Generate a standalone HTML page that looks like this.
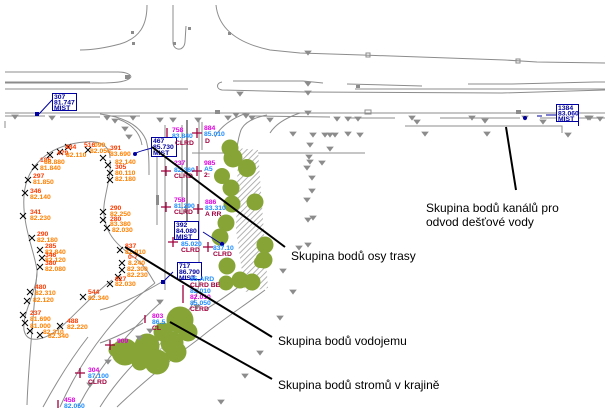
<!DOCTYPE html>
<html><head><meta charset="utf-8">
<style>
html,body{margin:0;padding:0;background:#fff;}
svg{display:block;}
.g{fill:none;stroke:#8c8c8c;stroke-width:1;}
.g2{fill:none;stroke:#8c8c8c;stroke-width:2;}
.o,.r,.m,.b,.d,.k{font-family:"Liberation Sans",sans-serif;font-size:6.8px;font-weight:bold;}
.o{fill:#ff8000;}
.r{fill:#ff3c00;}
.m{fill:#e000e0;}
.b{fill:#1e8cff;}
.d{fill:#a0003c;}
.k{fill:#0000a0;}
.lab{font-family:"Liberation Sans",sans-serif;font-size:12px;fill:#000;}
</style></head>
<body>
<svg width="610" height="410" viewBox="0 0 610 410" xmlns="http://www.w3.org/2000/svg">
<defs>
<g id="t"><path d="M-3,-2 L3,-2 L0,2 Z" fill="#8c8c8c" stroke="#8c8c8c" stroke-width="0.8"/></g>
<g id="x"><path d="M-3,-3 L3,3 M-3,3 L3,-3" stroke="#000" stroke-width="1"/></g>
<g id="p"><path d="M-5,0 L5,0 M0,-5 L0,5" stroke="#a0003c" stroke-width="1.3"/></g>
<pattern id="h" width="4" height="4" patternUnits="userSpaceOnUse" patternTransform="rotate(45)">
<rect width="4" height="4" fill="#fff"/><line x1="0" y1="0" x2="0" y2="4" stroke="#a0a0a0" stroke-width="1.6"/>
</pattern>
</defs>
<rect width="610" height="410" fill="#fff"/>

<!-- top intersection -->
<path class="g" d="M147,5 C147,25 140,38 120,44 C105,48 92,50 80,50"/>
<path class="g" d="M173,5 L173,42 C173,51 184,52 185,42 L186,26"/>
<path class="g" d="M216,5 C218,25 232,42 270,50 L300,53 L362,55 L505,60 L537,62 L605,63"/>
<rect x="131" y="31" width="3" height="3" fill="#8c8c8c"/>
<rect x="188" y="27" width="3" height="3" fill="#8c8c8c"/>
<rect x="173" y="42" width="3" height="3" fill="#8c8c8c"/>
<rect x="228" y="32" width="3" height="3" fill="#8c8c8c"/>
<rect x="132" y="42" width="3" height="3" fill="#8c8c8c"/>
<rect x="366" y="53" width="4" height="4" fill="none" stroke="#8c8c8c"/>
<rect x="516" y="59" width="4" height="4" fill="none" stroke="#8c8c8c"/>

<!-- left island -->
<path class="g" d="M5,72 L118,72 C128,72 133,76 130,78 C127,81 120,83 100,83 L5,83"/>
<path class="g" d="M5,82 L90,82"/>
<path class="g" d="M5,89 L188,89"/>
<rect x="125" y="75" width="5" height="4" fill="#8c8c8c"/>
<!-- right island -->
<path class="g" d="M222,82 C216,83 216,89 222,90 L305,92 L502,93 L605,90"/>
<path class="g" d="M233,81 L303,81 L323,83 M347,84 L422,86 M468,84 L512,84 L595,82 L605,82"/>
<path class="g" d="M355,89 L605,89"/>
<rect x="356" y="85" width="4" height="3" fill="#8c8c8c"/>

<!-- main road lines -->
<path class="g" d="M5,113 L605,113"/>
<path class="g" d="M5,116 L45,116 M60,117 L100,117 M110,116 L140,116 M250,116 L330,117 M350,118 L395,118 M440,118 L520,118 M540,118 L605,118"/>
<path class="g" d="M405,126 L562,126 L562,133"/>
<path class="g" d="M5,121 L5,128"/>
<path class="g" d="M192,153 L365,153"/>
<rect x="516" y="110" width="5" height="4" fill="#8c8c8c"/>
<rect x="365" y="110" width="6" height="4" fill="none" stroke="#8c8c8c"/>
<rect x="215" y="110" width="5" height="4" fill="#8c8c8c"/>

<!-- intersection corner curves -->
<path class="g" d="M100,114 C125,117 140,126 146,140 C149,150 149,160 149,175"/>
<path class="g" d="M118,119 C132,124 140,133 142,145"/>
<path class="g" d="M247,113 C232,118 220,127 215,137"/>
<path class="g" d="M267,115 C252,118 242,124 240,133 C238,140 237,146 237,152"/>
<path class="g" d="M300,113 C285,118 275,125 270,133"/>
<path class="g" d="M165,125 L165,290"/>
<path class="g" d="M182,125 L182,215"/>
<path class="g2" d="M187,120 L187,230"/>
<path class="g" d="M199,120 L199,280 C199,300 185,318 170,330"/>
<path class="g" d="M202,122 L202,150"/>
<path class="g" d="M157,150 L157,225"/>
<rect x="156" y="195" width="3" height="10" fill="#8c8c8c"/>
<rect x="185" y="205" width="3" height="8" fill="#8c8c8c"/>

<!-- left loop -->
<path class="g" d="M110,158 C110,146 100,140 85,142 C70,143 55,148 45,156 C32,166 25,180 24,196 C22,225 34,250 37,270 C38,290 22,312 24,330 C27,345 45,340 60,328 C75,315 90,297 112,280"/>
<path class="g" d="M110,160 C112,178 102,200 104,215 C106,235 118,246 135,258 C148,268 152,280 155,283"/>
<path class="g" d="M37,272 C33,320 28,370 27,405"/>
<path class="g" d="M88,337 C70,360 55,385 43,407"/>
<path class="g" d="M155,283 C125,305 85,350 60,407"/>
<path class="g" d="M160,303 C130,330 100,365 78,407"/>
<path class="g" d="M185,320 C150,345 120,375 100,407"/>
<path class="g" d="M200,338 C170,360 140,385 117,407"/>
<path class="g" d="M265,290 C245,305 215,325 200,338"/>
<path class="g" d="M258,268 C245,285 220,300 205,310"/>
<path class="g" d="M100,310 C120,305 140,295 165,280"/>
<path class="g" d="M100,343 C115,338 130,330 143,323"/>

<!-- hatch area -->
<path d="M238,148 L258,150 L268,288 L245,292 L236,230 Z" fill="url(#h)"/>
<path d="M130,360 C150,350 170,335 180,318 L186,322 C178,340 160,358 135,368 Z" fill="url(#h)"/>

<!-- trees -->
<g fill="#86a536">
<circle cx="230" cy="148" r="8.5"/>
<circle cx="233" cy="158" r="9.5"/>
<circle cx="247" cy="168" r="9"/>
<circle cx="222" cy="176" r="8"/>
<circle cx="231" cy="188" r="8.5"/>
<circle cx="255" cy="202" r="8.5"/>
<circle cx="232" cy="204" r="8.5"/>
<circle cx="226" cy="223" r="8.5"/>
<circle cx="220" cy="237" r="8.5"/>
<circle cx="265" cy="245" r="8.5"/>
<circle cx="264" cy="260" r="8.5"/>
<circle cx="227" cy="266" r="8.5"/>
<circle cx="240" cy="280" r="8.5"/>
<circle cx="226" cy="283" r="7.5"/>
<circle cx="252" cy="282" r="8.5"/>
<circle cx="260" cy="262" r="6"/>
<!-- bottom cluster -->
<circle cx="180" cy="320" r="13.5"/>
<circle cx="188" cy="332" r="9.5"/>
<circle cx="172" cy="343" r="11.5"/>
<circle cx="125" cy="352" r="13.5"/>
<circle cx="147" cy="346" r="12.5"/>
<circle cx="157" cy="362" r="12.5"/>
<circle cx="176" cy="352" r="10.5"/>
<circle cx="140" cy="362" r="8.5"/>
<circle cx="163" cy="332" r="9.5"/>
<circle cx="115" cy="350" r="6.5"/>
</g>

<!-- triangles -->
<g>
<use href="#t" x="15" y="117"/><use href="#t" x="52" y="118"/><use href="#t" x="107" y="118"/><use href="#t" x="115" y="121"/>
<use href="#t" x="133" y="118"/><use href="#t" x="160" y="120"/><use href="#t" x="173" y="120"/><use href="#t" x="198" y="120"/>
<use href="#t" x="228" y="118"/><use href="#t" x="252" y="118"/><use href="#t" x="270" y="120"/>
<use href="#t" x="337" y="119"/><use href="#t" x="348" y="119"/><use href="#t" x="358" y="119"/><use href="#t" x="412" y="118"/>
<use href="#t" x="417" y="122"/><use href="#t" x="472" y="118"/><use href="#t" x="485" y="121"/><use href="#t" x="525" y="118"/>
<use href="#t" x="543" y="122"/><use href="#t" x="588" y="118"/><use href="#t" x="600" y="119"/>
<use href="#t" x="313" y="135"/><use href="#t" x="325" y="135"/><use href="#t" x="330" y="135"/><use href="#t" x="335" y="135"/>
<use href="#t" x="348" y="134"/><use href="#t" x="360" y="135"/><use href="#t" x="425" y="134"/><use href="#t" x="487" y="134"/><use href="#t" x="568" y="135"/>
<use href="#t" x="293" y="134"/><use href="#t" x="310" y="145"/><use href="#t" x="330" y="149"/><use href="#t" x="309" y="157"/>
<use href="#t" x="310" y="162"/><use href="#t" x="322" y="163"/><use href="#t" x="307" y="168"/><use href="#t" x="312" y="178"/>
<use href="#t" x="312" y="191"/><use href="#t" x="307" y="200"/><use href="#t" x="308" y="220"/><use href="#t" x="313" y="218"/>
<use href="#t" x="299" y="248"/><use href="#t" x="308" y="245"/><use href="#t" x="283" y="271"/><use href="#t" x="293" y="292"/>
<use href="#t" x="280" y="318"/><use href="#t" x="260" y="353"/><use href="#t" x="245" y="376"/><use href="#t" x="221" y="402"/>
<use href="#t" x="197" y="307"/><use href="#t" x="160" y="302"/><use href="#t" x="150" y="331"/><use href="#t" x="139" y="338"/>
<use href="#t" x="108" y="362"/><use href="#t" x="90" y="385"/><use href="#t" x="240" y="94"/><use href="#t" x="308" y="53"/>
<use href="#t" x="308" y="84"/><use href="#t" x="308" y="93"/><use href="#t" x="308" y="113"/><use href="#t" x="590" y="118"/>
<use href="#t" x="125" y="129"/><use href="#t" x="129" y="137"/><use href="#t" x="236" y="115"/><use href="#t" x="246" y="116"/>
</g>

<!-- blue boxes -->
<rect x="52.5" y="93.5" width="24" height="17" fill="#fff" stroke="#0000a0"/>
<text class="k" x="54" y="99">307</text><text class="k" x="54" y="104.5">81.747</text><text class="k" x="54" y="110">MIST</text>
<path d="M52,100 L39,114" stroke="#0000a0" fill="none"/>
<rect x="35" y="112" width="4" height="4" fill="#0000a0"/>

<rect x="556.5" y="104.5" width="22" height="17" fill="#fff" stroke="#0000a0"/>
<path d="M578.5,121 L578.5,126" stroke="#0000a0"/>
<text class="k" x="558" y="110">1384</text><text class="k" x="558" y="115.5">83.060</text><text class="k" x="558" y="121">MIST</text>
<path d="M537,116 L542,116 M546,115 L556,115" stroke="#0000a0"/>
<circle cx="525" cy="118" r="2" fill="#0000a0"/>

<rect x="151.5" y="137.5" width="25" height="19" fill="#fff" stroke="#0000a0"/>
<text class="k" x="153" y="143">467</text><text class="k" x="153" y="149">85.730</text><text class="k" x="153" y="155">MIST</text>
<path d="M152,148 C145,150 140,151 136,153" stroke="#0000a0" fill="none"/>
<circle cx="135" cy="154" r="2" fill="#0000a0"/>

<rect x="174.5" y="221.5" width="24" height="18" fill="#fff" stroke="#0000a0"/>
<text class="k" x="176" y="227">392</text><text class="k" x="176" y="233">84.080</text><text class="k" x="176" y="239">MIST</text>
<path d="M203,232 L220,243" stroke="#0000a0" fill="none"/>
<circle cx="222" cy="244" r="2.2" fill="#0000a0"/>

<rect x="177.5" y="262.5" width="24" height="17" fill="#fff" stroke="#0000a0"/>
<text class="k" x="179" y="268">717</text><text class="k" x="179" y="274">86.790</text><text class="k" x="179" y="280">MIST</text>
<path d="M173,272 L164,281" stroke="#0000a0" fill="none"/>
<rect x="161" y="280" width="4" height="4" fill="#0000a0"/>

<!-- center labels -->
<text class="m" x="172" y="132">758</text><text class="b" x="172" y="138">83.840</text><text class="d" x="175" y="145">CLRD</text>
<text class="m" x="204" y="130">884</text><text class="b" x="204" y="136">85.010</text><text class="d" x="205" y="143">D</text>
<text class="m" x="174" y="165">237</text><text class="b" x="174" y="172">82.360</text><text class="d" x="174" y="178">CLRD</text>
<text class="m" x="204" y="165">985</text><text class="b" x="204" y="171">A5</text><text class="d" x="204" y="177">2:</text>
<text class="m" x="174" y="202">758</text><text class="b" x="174" y="208">81.290</text><text class="d" x="174" y="214">CLRD</text>
<text class="m" x="205" y="204">886</text><text class="b" x="205" y="210">83.310</text><text class="d" x="205" y="216">A RR</text>
<text class="b" x="181" y="246">85.020</text><text class="d" x="181" y="252">CLRD</text>
<text class="b" x="213" y="250">837.10</text><text class="d" x="213" y="256">CLRD</text>
<text class="b" x="190" y="281">85.ARD</text><text class="d" x="190" y="287">CLRD BE</text>
<text class="b" x="190" y="293">82.010</text><text class="m" x="190" y="299">82.010</text><text class="b" x="190" y="305">85.050</text><text class="d" x="190" y="311">CLRD</text>
<text class="m" x="152" y="318">803</text><text class="b" x="152" y="324">86.5</text><text class="d" x="152" y="330">CL</text>
<text class="m" x="117" y="343">909</text>
<text class="m" x="88" y="372">304</text><text class="b" x="88" y="378">87.100</text><text class="d" x="88" y="384">CLRD</text>
<text class="m" x="64" y="402">458</text><text class="b" x="64" y="408">82.050</text>

<use href="#p" x="197" y="133"/><use href="#p" x="166" y="171"/><use href="#p" x="197" y="171"/>
<use href="#p" x="166" y="207"/><use href="#p" x="198" y="209"/><use href="#p" x="173" y="242"/><use href="#p" x="208" y="247"/>
<use href="#p" x="110" y="345"/><use href="#p" x="80" y="373"/>
<path d="M167,128 L167,137 M183,285 L183,303 M145,315 L145,323 M58,400 L58,408" stroke="#a0003c" stroke-width="1.3"/>

<!-- survey crosses -->
<g>
<use href="#x" x="50" y="155"/><use href="#x" x="35" y="167"/><use href="#x" x="28" y="180"/><use href="#x" x="25" y="193"/>
<use href="#x" x="23" y="216"/><use href="#x" x="32" y="238"/><use href="#x" x="40" y="250"/><use href="#x" x="42" y="258"/>
<use href="#x" x="40" y="267"/><use href="#x" x="103" y="158"/><use href="#x" x="108" y="165"/><use href="#x" x="110" y="173"/>
<use href="#x" x="110" y="180"/><use href="#x" x="103" y="212"/><use href="#x" x="103" y="220"/><use href="#x" x="107" y="228"/>
<use href="#x" x="120" y="250"/><use href="#x" x="122" y="263"/><use href="#x" x="122" y="270"/><use href="#x" x="118" y="277"/>
<use href="#x" x="60" y="152"/><use href="#x" x="68" y="147"/><use href="#x" x="88" y="150"/>
<use href="#x" x="30" y="292"/><use href="#x" x="27" y="301"/><use href="#x" x="23" y="315"/><use href="#x" x="25" y="323"/>
<use href="#x" x="30" y="331"/><use href="#x" x="40" y="335"/><use href="#x" x="60" y="326"/><use href="#x" x="83" y="297"/>
<use href="#x" x="110" y="284"/>
</g>

<!-- orange labels -->
<text class="r" x="65" y="149">484</text><text class="r" x="84" y="147">516</text><text class="o" x="94" y="147">090</text>
<text class="r" x="57" y="155">479</text><text class="o" x="66" y="157">82.110</text><text class="o" x="90" y="153">82.050</text>
<text class="r" x="40" y="162">185</text><text class="o" x="44" y="164">88.880</text><text class="o" x="40" y="170">81.840</text>
<text class="r" x="33" y="178">297</text><text class="o" x="33" y="184">81.850</text>
<text class="r" x="30" y="193">346</text><text class="o" x="30" y="199">82.140</text>
<text class="r" x="30" y="214">341</text><text class="o" x="30" y="220">82.230</text>
<text class="r" x="37" y="236">290</text><text class="o" x="37" y="242">82.180</text>
<text class="r" x="45" y="248">285</text><text class="o" x="45" y="254">82.840</text>
<text class="r" x="45" y="257">346</text><text class="o" x="45" y="262">82.120</text>
<text class="r" x="45" y="265">380</text><text class="o" x="45" y="271">82.080</text>
<text class="r" x="110" y="150">391</text><text class="o" x="110" y="156">83.690</text>
<text class="o" x="115" y="164">82.140</text><text class="r" x="115" y="169">305</text>
<text class="o" x="115" y="175">80.110</text><text class="o" x="115" y="181">82.180</text>
<text class="r" x="110" y="210">290</text><text class="o" x="110" y="216">82.250</text>
<text class="r" x="110" y="221">280</text><text class="o" x="110" y="226">83.380</text><text class="o" x="112" y="232">82.030</text>
<text class="r" x="125" y="248">837</text><text class="o" x="125" y="254">82.910</text>
<text class="r" x="128" y="259">0-7</text><text class="o" x="128" y="265">8.240</text>
<text class="o" x="127" y="271">82.300</text><text class="o" x="127" y="277">82.230</text>
<text class="r" x="115" y="281">827</text><text class="o" x="115" y="286">82.030</text>
<text class="r" x="35" y="289">480</text><text class="o" x="35" y="295">82.310</text><text class="o" x="33" y="302">82.120</text>
<text class="r" x="30" y="315">237</text><text class="o" x="30" y="321">81.690</text><text class="o" x="30" y="328">81.000</text>
<text class="r" x="67" y="323">488</text><text class="o" x="67" y="329">82.220</text>
<text class="o" x="43" y="334">82.310</text><text class="o" x="48" y="338">82.340</text>
<text class="r" x="88" y="294">544</text><text class="o" x="88" y="300">82.340</text>

<!-- leader lines -->
<g stroke="#000" stroke-width="2" fill="none">
<path d="M506,127 L516,190"/>
<path d="M152,147 L285,247"/>
<path d="M125,247 L272,337"/>
<path d="M170,322 L272,379"/>
</g>

<!-- labels -->
<text class="lab" x="426" y="212">Skupina bodů kanálů pro</text>
<text class="lab" x="426" y="226">odvod dešťové vody</text>
<text class="lab" x="291" y="260">Skupina bodů osy trasy</text>
<text class="lab" x="278" y="345">Skupina bodů vodojemu</text>
<text class="lab" x="278" y="389">Skupina bodů stromů v krajině</text>
</svg>
</body></html>
